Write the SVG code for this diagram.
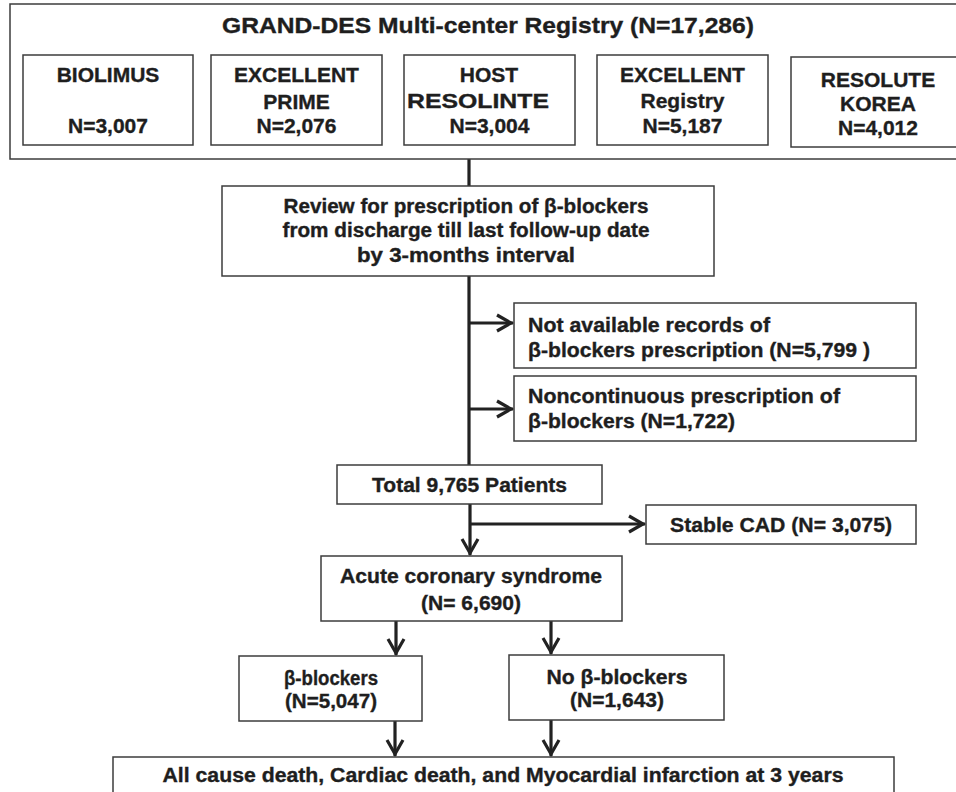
<svg xmlns="http://www.w3.org/2000/svg" width="956" height="792" viewBox="0 0 956 792">
<defs>
<style>
.box{fill:#ffffff;stroke:#3c3c3c;stroke-width:1.5}
.t{font-family:"Liberation Sans",Arial,sans-serif;font-weight:bold;fill:#1e1e1e;stroke:#1e1e1e;stroke-width:0.35}
.c{text-anchor:middle}
.con{stroke:#222222;stroke-width:3.2;fill:none}
</style>
<marker id="ah" markerUnits="userSpaceOnUse" markerWidth="26" markerHeight="26" refX="18" refY="9" orient="auto" overflow="visible">
<path d="M2,1 L16,9 L2,17" fill="none" stroke="#222222" stroke-width="3.2" stroke-linejoin="miter"/>
</marker>
</defs>
<rect width="956" height="792" fill="#ffffff"/>

<g id="connectors">
<line class="con" x1="469" y1="159" x2="469" y2="186"/>
<line class="con" x1="469" y1="276" x2="469" y2="465"/>
<line class="con" x1="469" y1="323" x2="513" y2="323" marker-end="url(#ah)"/>
<line class="con" x1="469" y1="409" x2="513" y2="409" marker-end="url(#ah)"/>
<line class="con" x1="470" y1="504" x2="470" y2="555" marker-end="url(#ah)"/>
<line class="con" x1="470" y1="524" x2="645" y2="524" marker-end="url(#ah)"/>
<line class="con" x1="396" y1="621" x2="396" y2="655" marker-end="url(#ah)"/>
<line class="con" x1="551" y1="621" x2="551" y2="654" marker-end="url(#ah)"/>
<line class="con" x1="395" y1="721" x2="395" y2="756" marker-end="url(#ah)"/>
<line class="con" x1="551" y1="720" x2="551" y2="756" marker-end="url(#ah)"/>
</g>

<g id="registry">
<rect class="box" x="10" y="4" width="960" height="155"/>
<text class="t c" x="488" y="33" font-size="22.5" textLength="532" lengthAdjust="spacingAndGlyphs">GRAND-DES Multi-center Registry (N=17,286)</text>
</g>

<g id="biolimus">
<rect class="box" x="23" y="55" width="170" height="90"/>
<text class="t c" x="108" y="82" font-size="21">BIOLIMUS</text>
<text class="t c" x="108" y="133" font-size="21">N=3,007</text>
</g>

<g id="excellent-prime">
<rect class="box" x="211" y="55" width="171" height="90"/>
<text class="t c" x="296.5" y="82" font-size="21">EXCELLENT</text>
<text class="t c" x="296.5" y="109" font-size="21">PRIME</text>
<text class="t c" x="296.5" y="133" font-size="21">N=2,076</text>
</g>

<g id="host-resolinte">
<rect class="box" x="404" y="55" width="171" height="90"/>
<text class="t c" x="489" y="82" font-size="21">HOST</text>
<text class="t c" x="478" y="108" font-size="21" textLength="142" lengthAdjust="spacingAndGlyphs">RESOLINTE</text>
<text class="t c" x="489.5" y="133" font-size="21">N=3,004</text>
</g>

<g id="excellent-registry">
<rect class="box" x="597" y="55" width="171" height="90"/>
<text class="t c" x="682.5" y="82" font-size="21">EXCELLENT</text>
<text class="t c" x="682.5" y="108" font-size="21">Registry</text>
<text class="t c" x="682.5" y="133" font-size="21">N=5,187</text>
</g>

<g id="resolute-korea">
<rect class="box" x="791" y="57" width="180" height="90"/>
<text class="t c" x="878" y="87" font-size="21">RESOLUTE</text>
<text class="t c" x="878" y="111" font-size="21">KOREA</text>
<text class="t c" x="878" y="135" font-size="21">N=4,012</text>
</g>

<g id="review">
<rect class="box" x="222" y="186" width="492" height="90"/>
<text class="t c" x="466" y="213" font-size="19.5" textLength="365" lengthAdjust="spacingAndGlyphs">Review for prescription of β-blockers</text>
<text class="t c" x="466" y="237" font-size="19.5" textLength="367" lengthAdjust="spacingAndGlyphs">from discharge till last follow-up date</text>
<text class="t c" x="466" y="262" font-size="19.5" textLength="218" lengthAdjust="spacingAndGlyphs">by 3-months interval</text>
</g>

<g id="not-available">
<rect class="box" x="514" y="303" width="402" height="65"/>
<text class="t" x="528" y="332" font-size="19.5" textLength="242" lengthAdjust="spacingAndGlyphs">Not available records of</text>
<text class="t" x="528" y="357" font-size="19.5" textLength="342" lengthAdjust="spacingAndGlyphs">β-blockers prescription (N=5,799 )</text>
</g>

<g id="noncontinuous">
<rect class="box" x="514" y="376" width="402" height="65"/>
<text class="t" x="528" y="403" font-size="19.5" textLength="312" lengthAdjust="spacingAndGlyphs">Noncontinuous prescription of</text>
<text class="t" x="528" y="428" font-size="19.5" textLength="207" lengthAdjust="spacingAndGlyphs">β-blockers (N=1,722)</text>
</g>

<g id="total">
<rect class="box" x="337" y="465" width="265" height="39"/>
<text class="t c" x="469.5" y="492" font-size="20" textLength="195" lengthAdjust="spacingAndGlyphs">Total 9,765 Patients</text>
</g>

<g id="stable-cad">
<rect class="box" x="646" y="505" width="270" height="39"/>
<text class="t c" x="781" y="532" font-size="20.5" textLength="222" lengthAdjust="spacingAndGlyphs">Stable CAD (N= 3,075)</text>
</g>

<g id="acs">
<rect class="box" x="321" y="556" width="301" height="65"/>
<text class="t c" x="471" y="583" font-size="20" textLength="262" lengthAdjust="spacingAndGlyphs">Acute coronary syndrome</text>
<text class="t c" x="471" y="610" font-size="20" textLength="100" lengthAdjust="spacingAndGlyphs">(N= 6,690)</text>
</g>

<g id="beta-blockers">
<rect class="box" x="239" y="656" width="183" height="65"/>
<text class="t c" x="331" y="685" font-size="20" textLength="94" lengthAdjust="spacingAndGlyphs">β-blockers</text>
<text class="t c" x="331" y="708" font-size="20" textLength="92" lengthAdjust="spacingAndGlyphs">(N=5,047)</text>
</g>

<g id="no-beta-blockers">
<rect class="box" x="509" y="655" width="215" height="65"/>
<text class="t c" x="617" y="684" font-size="20" textLength="141" lengthAdjust="spacingAndGlyphs">No β-blockers</text>
<text class="t c" x="617" y="707" font-size="20" textLength="94" lengthAdjust="spacingAndGlyphs">(N=1,643)</text>
</g>

<g id="outcomes">
<rect class="box" x="113" y="757" width="781" height="45"/>
<text class="t c" x="503" y="782" font-size="19.5" textLength="681" lengthAdjust="spacingAndGlyphs">All cause death, Cardiac death, and Myocardial infarction at 3 years</text>
</g>
</svg>
